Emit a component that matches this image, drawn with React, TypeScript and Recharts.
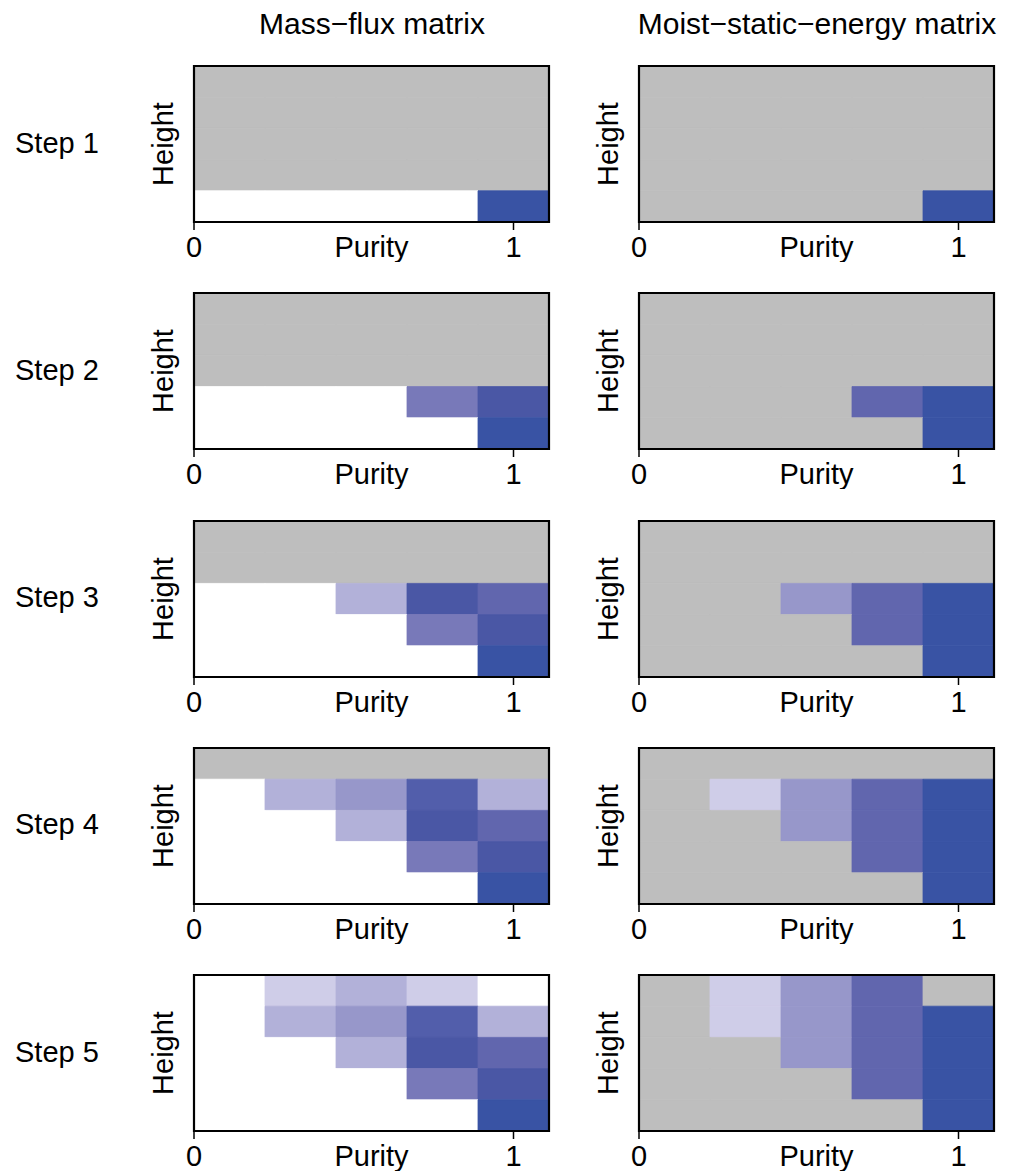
import React from 'react'
import { ScatterChart, Scatter, XAxis, YAxis, ReferenceArea, Label } from 'recharts'

const STEP_LABELS = ['Step 1', 'Step 2', 'Step 3', 'Step 4', 'Step 5']
const MATRIX_TITLES = ['Mass−flux matrix', 'Moist−static−energy matrix']
const PURITY_EDGES = [0, 2 / 9, 4 / 9, 6 / 9, 8 / 9, 10 / 9]
const PURITY_TICKS = [0, 1]
const HEIGHT_LEVELS = 5

// each matrix: rows listed from the top level down, one char per purity bin
// g = not filled yet (grey), 0 = empty, 1..8 = light to dark blue
const MASS_FLUX_STEPS = [
  ['ggggg', 'ggggg', 'ggggg', 'ggggg', '00008'],
  ['ggggg', 'ggggg', 'ggggg', '00047', '00008'],
  ['ggggg', 'ggggg', '00275', '00047', '00008'],
  ['ggggg', '02362', '00275', '00047', '00008'],
  ['01210', '02362', '00275', '00047', '00008'],
]

const MSE_STEPS = [
  ['ggggg', 'ggggg', 'ggggg', 'ggggg', 'gggg8'],
  ['ggggg', 'ggggg', 'ggggg', 'ggg58', 'gggg8'],
  ['ggggg', 'ggggg', 'gg358', 'ggg58', 'gggg8'],
  ['ggggg', 'g1358', 'gg358', 'ggg58', 'gggg8'],
  ['g135g', 'g1358', 'gg358', 'ggg58', 'gggg8'],
]

const SHADES: Record<string, string> = {
  g: '#BEBEBE',
  '0': '#FFFFFF',
  '1': '#CFCDE8',
  '2': '#B2B1D9',
  '3': '#9797CA',
  '4': '#7879B9',
  '5': '#6166AE',
  '6': '#525EAB',
  '7': '#4A57A5',
  '8': '#3953A4',
}

const FONT = '"Liberation Sans", Arial, Helvetica, sans-serif'
const TEXT_STYLE = { fontSize: 29, fill: '#000', fontFamily: FONT }
const TITLE_STYLE = { ...TEXT_STYLE, fontSize: 30 }

const COL_LEFT = [140, 585]
const ROW_TOP = 56
const ROW_GAP = 227.25
const CHART_W = 414
const CHART_H = 206

function MatrixPanel({ rows, left, top }: { rows: string[]; left: number; top: number }) {
  const cells: { x: number; y: number; x1: number; x2: number; y1: number; y2: number; code: string }[] = []
  rows.forEach((row, r) => {
    row.split('').forEach((code, c) => {
      const y1 = HEIGHT_LEVELS - r - 1
      cells.push({
        x: (PURITY_EDGES[c] + PURITY_EDGES[c + 1]) / 2,
        y: y1 + 0.5,
        x1: PURITY_EDGES[c],
        x2: PURITY_EDGES[c + 1],
        y1,
        y2: y1 + 1,
        code,
      })
    })
  })

  return (
    <div style={{ position: 'absolute', left, top }}>
      <ScatterChart width={CHART_W} height={CHART_H} margin={{ top: 10, right: 5, bottom: 0, left: 0 }}>
        <XAxis
          type="number"
          dataKey="x"
          domain={[PURITY_EDGES[0], PURITY_EDGES[PURITY_EDGES.length - 1]]}
          ticks={PURITY_TICKS}
          interval={0}
          allowDataOverflow
          axisLine={false}
          tickLine={{ stroke: '#000', strokeWidth: 1.5 }}
          tickSize={8}
          tickMargin={6}
          height={40}
          tick={TEXT_STYLE}
        >
          <Label value="Purity" position="insideBottom" offset={5} style={TEXT_STYLE} />
        </XAxis>
        <YAxis
          type="number"
          dataKey="y"
          domain={[0, HEIGHT_LEVELS]}
          allowDataOverflow
          width={54}
          tick={false}
          tickLine={false}
          axisLine={false}
        >
          <Label
            value="Height"
            angle={-90}
            position="insideLeft"
            offset={23}
            style={{ ...TEXT_STYLE, textAnchor: 'middle' }}
          />
        </YAxis>
        {cells.map((cell, i) => (
          <ReferenceArea
            key={i}
            x1={cell.x1}
            x2={cell.x2}
            y1={cell.y1}
            y2={cell.y2}
            fill={SHADES[cell.code]}
            fillOpacity={1}
            stroke={SHADES[cell.code]}
            strokeWidth={0.8}
            ifOverflow="visible"
          />
        ))}
        <ReferenceArea
          x1={PURITY_EDGES[0]}
          x2={PURITY_EDGES[PURITY_EDGES.length - 1]}
          y1={0}
          y2={HEIGHT_LEVELS}
          fill="none"
          fillOpacity={0}
          stroke="#000"
          strokeWidth={2.2}
          ifOverflow="visible"
        />
        <Scatter data={cells} isAnimationActive={false} shape={() => <g />} />
      </ScatterChart>
    </div>
  )
}

export default function App() {
  return (
    <div style={{ position: 'absolute', left: 0, top: 0, width: 1012, height: 1171, background: '#fff' }}>
      <svg width={1012} height={1171} style={{ position: 'absolute', left: 0, top: 0 }}>
        <text x={372} y={34} textAnchor="middle" style={TITLE_STYLE}>{MATRIX_TITLES[0]}</text>
        <text x={817} y={34} textAnchor="middle" style={TITLE_STYLE}>{MATRIX_TITLES[1]}</text>
        {STEP_LABELS.map((s, i) => (
          <text key={s} x={15} y={152.7 + i * ROW_GAP} style={TEXT_STYLE}>{s}</text>
        ))}
      </svg>
      {STEP_LABELS.map((s, i) => (
        <React.Fragment key={s}>
          <MatrixPanel rows={MASS_FLUX_STEPS[i]} left={COL_LEFT[0]} top={Math.round(ROW_TOP + i * ROW_GAP)} />
          <MatrixPanel rows={MSE_STEPS[i]} left={COL_LEFT[1]} top={Math.round(ROW_TOP + i * ROW_GAP)} />
        </React.Fragment>
      ))}
    </div>
  )
}
